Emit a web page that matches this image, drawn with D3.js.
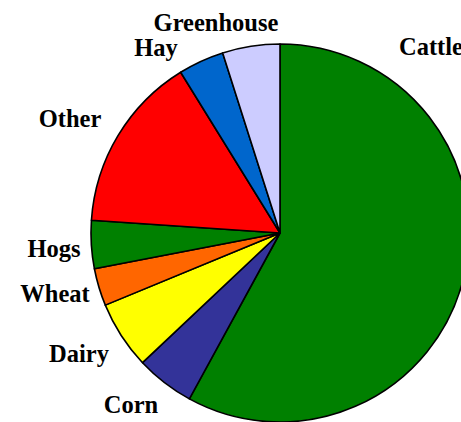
<!DOCTYPE html>
<html>
<head>
<meta charset="utf-8">
<script src="https://cdn.jsdelivr.net/npm/d3@7"></script>
<style>
  html, body { margin: 0; padding: 0; background: #fff; }
  svg { display: block; }
</style>
</head>
<body>
<svg id="chart" width="461" height="422"></svg>
<script>
// data, clockwise from 12 o'clock
const categories = ["Cattle", "Corn", "Dairy", "Wheat", "Hogs", "Other", "Hay", "Greenhouse"];
const shares = [57.9, 5.0, 5.8, 3.2, 4.1, 15.1, 3.9, 4.9];
const colors = ["#008000", "#333399", "#FFFF00", "#FF6600", "#008000", "#FF0000", "#0066CC", "#CCCCFF"];

// label placement (centre x, baseline y), set by hand like the original
const labelPos = {
    Cattle: [431, 55],
    Corn: [131, 413],
    Dairy: [79, 362],
    Wheat: [55, 302],
    Hogs: [54, 257],
    Other: [70, 127],
    Hay: [156, 56],
    Greenhouse: [216, 31]
};

const svg = d3.select("#chart");
const cx = 280, cy = 233, radius = 189;

const pie = d3.pie().sort(null).value(d => d.value);
const arc = d3.arc().innerRadius(0).outerRadius(radius);

const data = categories.map((c, i) => ({ name: c, value: shares[i], color: colors[i] }));

const g = svg.append("g").attr("transform", `translate(${cx},${cy})`);

g.selectAll("path")
    .data(pie(data))
    .enter()
    .append("path")
    .attr("d", arc)
    .attr("fill", d => d.data.color)
    .attr("stroke", "#000")
    .attr("stroke-width", 1.6)
    .attr("stroke-linejoin", "round");

// labels
svg.append("g")
    .selectAll("text")
    .data(data)
    .enter()
    .append("text")
    .attr("x", d => labelPos[d.name][0])
    .attr("y", d => labelPos[d.name][1])
    .attr("text-anchor", "middle")
    .attr("font-family", "'Liberation Serif', 'Times New Roman', serif")
    .attr("font-weight", "bold")
    .attr("font-size", "24.5px")
    .attr("fill", "#000")
    .text(d => d.name);
</script>
</body>
</html>
